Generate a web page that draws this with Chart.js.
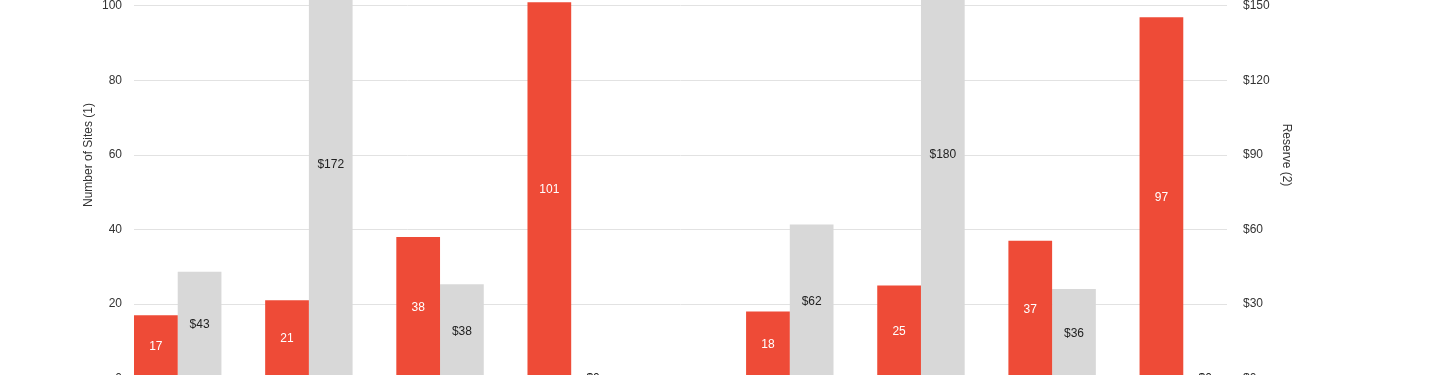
<!DOCTYPE html>
<html>
<head>
<meta charset="utf-8">
<title>Sites and Reserve</title>
<script src="https://cdn.jsdelivr.net/npm/chart.js@4.4.1/dist/chart.umd.min.js"></script>
<style>
  html, body { margin: 0; padding: 0; background: #fff; overflow: hidden; }
  #wrap { position: absolute; left: 0; top: -99px; width: 1440px; height: 520px; }
</style>
</head>
<body>
<div id="wrap"><canvas id="sitesChart"></canvas></div>
<script>
// data
const categories = ["A1", "A2", "A3", "A4", "B1", "B2", "B3", "B4"];
const sites = [17, 21, 38, 101, 18, 25, 37, 97];
const reserve = [43, 172, 38, 0, 62, 180, 36, 0];
const siteTicks = [0, 20, 40, 60, 80, 100, 120];
const reserveTicks = [0, 30, 60, 90, 120, 150, 180];

// two groups of four, with extra room between them
const groupSize = 4;
const groupGap = 2 / 3;
const edgePad = 1 / 3;
const xPos = categories.map((c, i) => i + (i >= groupSize ? groupGap : 0));

const RED = "#ee4b37";
const GREY = "#d8d8d8";
const FONT = "'Liberation Sans', Arial, sans-serif";

// values written in the middle of each bar
const barLabels = {
    id: "barLabels",
    afterDatasetsDraw(chart) {
        const ctx = chart.ctx;
        ctx.save();
        ctx.font = "12px " + FONT;
        ctx.textAlign = "center";
        ctx.textBaseline = "middle";
        chart.data.datasets.forEach((ds, di) => {
            const meta = chart.getDatasetMeta(di);
            meta.data.forEach((bar, i) => {
                const v = ds.data[i].y;
                const text = di === 0 ? String(v) : "$" + v;
                ctx.fillStyle = di === 0 ? "#ffffff" : "#222222";
                ctx.fillText(text, bar.x, (bar.y + bar.base) / 2);
            });
        });
        ctx.restore();
    }
};

const ctx = document.getElementById("sitesChart").getContext("2d");

new Chart(ctx, {
    type: "bar",
    data: {
        labels: categories,
        datasets: [
            {
                label: "Number of Sites",
                data: sites.map((v, i) => ({ x: xPos[i], y: v })),
                backgroundColor: RED,
                yAxisID: "ySites"
            },
            {
                label: "Reserve",
                data: reserve.map((v, i) => ({ x: xPos[i], y: v })),
                backgroundColor: GREY,
                yAxisID: "yReserve"
            }
        ]
    },
    options: {
        responsive: true,
        maintainAspectRatio: false,
        animation: false,
        categoryPercentage: 2 / 3,
        barPercentage: 1,
        layout: {
            padding: { left: 77, right: 142, top: 30.5, bottom: 42.5 }
        },
        plugins: {
            legend: { display: false },
            tooltip: {
                callbacks: {
                    title: items => categories[items[0].dataIndex]
                }
            }
        },
        scales: {
            x: {
                type: "linear",
                display: false,
                offset: false,
                min: xPos[0] - edgePad,
                max: xPos[xPos.length - 1] + edgePad,
                ticks: { stepSize: 1, includeBounds: false }
            },
            ySites: {
                position: "left",
                min: siteTicks[0],
                max: siteTicks[siteTicks.length - 1],
                afterBuildTicks: s => { s.ticks = siteTicks.map(v => ({ value: v })); },
                afterFit: s => { s.width = 57; },
                grid: { color: "#e2e2e2", drawTicks: false },
                border: { display: false },
                ticks: {
                    padding: 12,
                    color: "#333",
                    font: { family: FONT, size: 12 }
                },
                title: {
                    display: true,
                    text: "Number of Sites (1)",
                    color: "#333",
                    font: { family: FONT, size: 12 }
                }
            },
            yReserve: {
                position: "right",
                min: reserveTicks[0],
                max: reserveTicks[reserveTicks.length - 1],
                afterBuildTicks: s => { s.ticks = reserveTicks.map(v => ({ value: v })); },
                afterFit: s => { s.width = 71; },
                grid: { display: false, drawTicks: false },
                border: { display: false },
                ticks: {
                    padding: 16,
                    color: "#333",
                    font: { family: FONT, size: 12 },
                    callback: v => "$" + v
                },
                title: {
                    display: true,
                    text: "Reserve (2)",
                    color: "#333",
                    font: { family: FONT, size: 12 }
                }
            }
        }
    },
    plugins: [barLabels]
});
</script>
</body>
</html>
